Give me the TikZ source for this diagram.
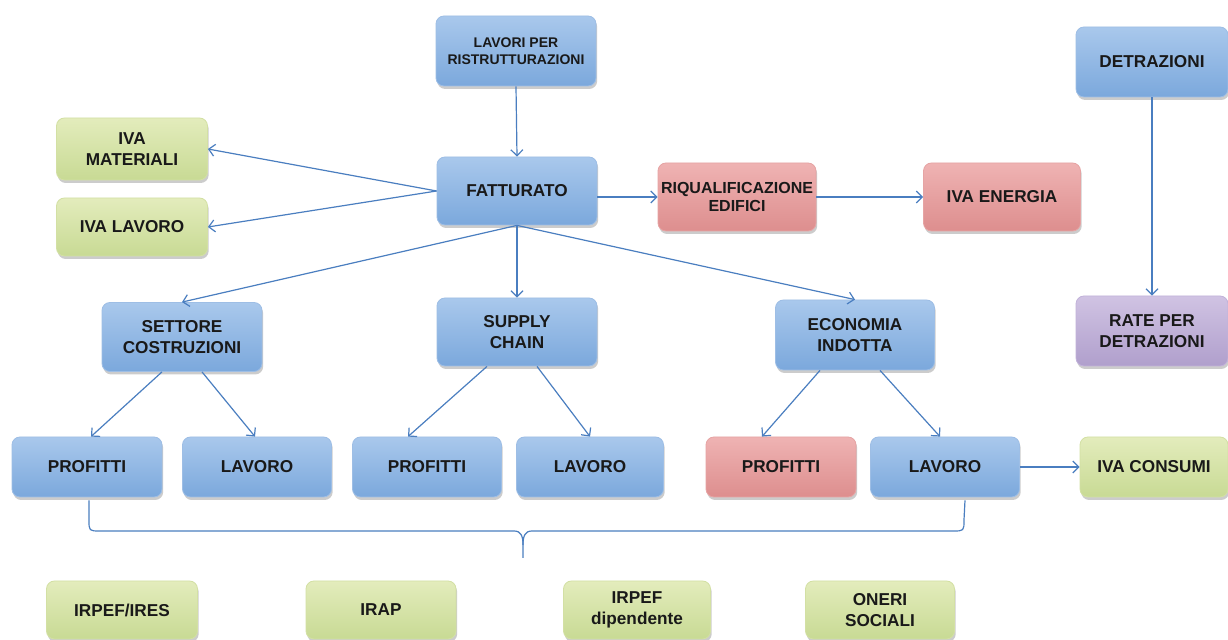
\documentclass[tikz,border=0pt]{standalone}
\usepackage{fontspec}
\setmainfont{Liberation Sans}
\usetikzlibrary{arrows.meta,shadows,calc}

\definecolor{bluetop}{HTML}{A9C8EC}
\definecolor{bluebot}{HTML}{7BA8DC}
\definecolor{blueline}{HTML}{9EBEE5}
\definecolor{greentop}{HTML}{E3ECBC}
\definecolor{greenbot}{HTML}{C8DA94}
\definecolor{greenline}{HTML}{D3E0A4}
\definecolor{redtop}{HTML}{EFB3B3}
\definecolor{redbot}{HTML}{DD8E8E}
\definecolor{redline}{HTML}{E6A4A4}
\definecolor{purptop}{HTML}{D0C3E3}
\definecolor{purpbot}{HTML}{B09FCC}
\definecolor{purpline}{HTML}{C1B2D9}
\definecolor{linkblue}{HTML}{4A7EC0}

\tikzset{
  box/.style={rectangle, rounded corners=4pt, align=center, inner sep=1pt,
    font=\fontsize{8.6}{10.5}\selectfont\bfseries, text=black!90, line width=0.4pt,
    drop shadow={shadow xshift=0.6pt, shadow yshift=-1.5pt, opacity=0.4}},
  bluebox/.style={box, draw=blueline, top color=bluetop, bottom color=bluebot},
  greenbox/.style={box, draw=greenline, top color=greentop, bottom color=greenbot},
  redbox/.style={box, draw=redline, top color=redtop, bottom color=redbot},
  purpbox/.style={box, draw=purpline, top color=purptop, bottom color=purpbot},
  link/.style={draw=linkblue, line width=0.6pt, -{Straight Barb[length=3pt,width=6pt]}},
  bracket/.style={draw=linkblue, line width=0.6pt},
}

\begin{document}
\begin{tikzpicture}[x=0.5pt, y=-0.5pt]
    \useasboundingbox (0,0) rectangle (1228,640);
    \fill[white] (0,0) rectangle (1228,640);

    % 1. Riga in alto
    \node[bluebox, minimum width=80pt, minimum height=35pt,
          font=\fontsize{7}{8.4}\selectfont\bfseries] (lav) at (516,51) {LAVORI PER\\RISTRUTTURAZIONI};
    \node[bluebox, minimum width=76pt, minimum height=35pt] (det) at (1152,62) {DETRAZIONI};

    % 2. Fatturato e imposte collegate
    \node[greenbox, minimum width=75.5pt, minimum height=31pt] (ivamat) at (132,149) {IVA\\MATERIALI};
    \node[greenbox, minimum width=75.5pt, minimum height=29pt] (ivalav) at (132,227) {IVA LAVORO};
    \node[bluebox, minimum width=80pt, minimum height=34pt] (fatt) at (517,191) {FATTURATO};
    \node[redbox, minimum width=79pt, minimum height=34pt,
          font=\fontsize{8}{9}\selectfont\bfseries] (riq) at (737,197) {RIQUALIFICAZIONE\\EDIFICI};
    \node[redbox, minimum width=78.5pt, minimum height=34pt] (ivaen) at (1002,197) {IVA ENERGIA};

    % 3. Settori
    \node[bluebox, minimum width=80pt, minimum height=34.5pt] (set) at (182,337) {SETTORE\\COSTRUZIONI};
    \node[bluebox, minimum width=80pt, minimum height=34pt] (sup) at (517,332) {SUPPLY\\CHAIN};
    \node[bluebox, minimum width=79.5pt, minimum height=35pt] (eco) at (855,335) {ECONOMIA\\INDOTTA};
    \node[purpbox, minimum width=76pt, minimum height=35pt] (rate) at (1152,331) {RATE PER\\DETRAZIONI};

    % 4. Profitti e lavoro
    \node[bluebox, minimum width=75pt, minimum height=30pt] (pr1) at (87,467) {PROFITTI};
    \node[bluebox, minimum width=74.5pt, minimum height=30pt] (la1) at (257,467) {LAVORO};
    \node[bluebox, minimum width=74.5pt, minimum height=30pt] (pr2) at (427,467) {PROFITTI};
    \node[bluebox, minimum width=73.5pt, minimum height=30pt] (la2) at (590,467) {LAVORO};
    \node[redbox, minimum width=75pt, minimum height=30pt] (pr3) at (781,467) {PROFITTI};
    \node[bluebox, minimum width=74.5pt, minimum height=30pt] (la3) at (945,467) {LAVORO};
    \node[greenbox, minimum width=74pt, minimum height=30pt] (ivac) at (1154,467) {IVA CONSUMI};

    % 5. Imposte in basso
    \node[greenbox, minimum width=75.5pt, minimum height=29pt] (irpef) at (122,610) {IRPEF/IRES};
    \node[greenbox, minimum width=75pt, minimum height=29pt] (irap) at (381,610) {IRAP};
    \node[greenbox, minimum width=73.5pt, minimum height=29pt] (irdip) at (637,610) {IRPEF\\dipendente};
    \node[greenbox, minimum width=74.5pt, minimum height=29pt] (oneri) at (880,610) {ONERI\\SOCIALI};

    % 6. Frecce
    \draw[link] (lav.south) -- (fatt.north);
    \draw[link] (fatt.west) -- (ivamat.east);
    \draw[link] (fatt.west) -- (ivalav.east);
    \draw[link] (riq.west -| fatt.east) -- (riq.west);
    \draw[link] (riq.east) -- (ivaen.west);
    \draw[link] (fatt.south) -- (set.north);
    \draw[link] (fatt.south) -- (sup.north);
    \draw[link] (fatt.south) -- (eco.north);
    \draw[link] (det.south) -- (rate.north);

    \draw[link] ($(set.south)+(-20,0)$) -- ($(pr1.north)+(4,0)$);
    \draw[link] ($(set.south)+(20,0)$) -- ($(la1.north)+(-2,0)$);
    \draw[link] ($(sup.south)+(-30,0)$) -- ($(pr2.north)+(-19,0)$);
    \draw[link] ($(sup.south)+(20,0)$) -- (la2.north);
    \draw[link] ($(eco.south)+(-35,0)$) -- ($(pr3.north)+(-19,0)$);
    \draw[link] ($(eco.south)+(25,0)$) -- ($(la3.north)+(-5,0)$);
    \draw[link] (la3.east) -- (ivac.west);

    % 7. Parentesi graffa
    \coordinate (brL) at ($(pr1.south)+(2,3)$);
    \coordinate (brR) at ($(la3.south)+(20,3)$);
    \coordinate (brM) at (523,558);
    \draw[bracket] (brL) -- (89,520) .. controls (89,531) .. (100,531) -- (514,531)
        .. controls (521,531) and (523,536) .. (523,545) -- (brM);
    \draw[bracket] (brR) -- (964,520) .. controls (964,531) .. (953,531) -- (532,531)
        .. controls (525,531) and (523,536) .. (523,545);
\end{tikzpicture}
\end{document}
